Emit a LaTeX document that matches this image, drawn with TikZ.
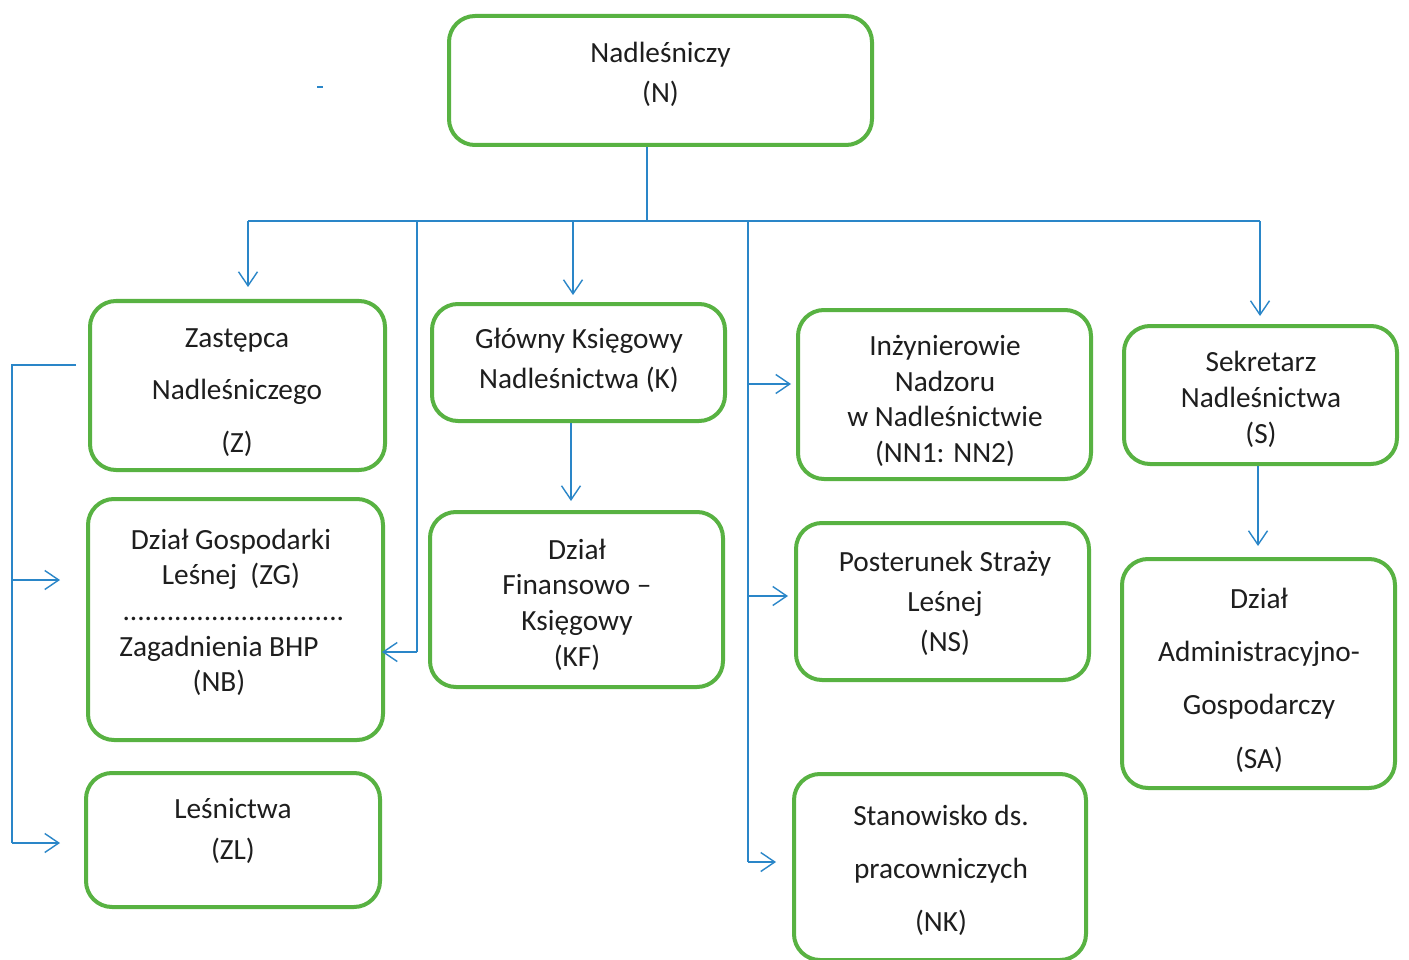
\documentclass[tikz,border=0pt]{standalone}
\usepackage{fontspec}
\setmainfont{Carlito}
\usetikzlibrary{arrows.meta}
\definecolor{boxgreen}{RGB}{88,178,66}
\definecolor{linkblue}{RGB}{42,134,200}
\definecolor{ink}{RGB}{30,30,30}
\tikzset{
  orgbox/.style={draw=boxgreen, line width=4pt, rounded corners=26pt, fill=white,
    inner sep=0pt, minimum width=#1},
  orgbox/.default=293pt,
  lbl/.style={text=ink, align=center, inner sep=0pt},
  link/.style={draw=linkblue, line width=1.4pt},
  arr/.style={link, -{Straight Barb[length=14pt,width=19pt,line width=1.4pt]}},
}
\newcommand{\fs}[1]{\fontsize{29.3}{#1}\selectfont}
\begin{document}
\begin{tikzpicture}[x=1pt,y=-1pt]
\useasboundingbox (0,0) rectangle (1409,960);
\fill[white] (0,0) rectangle (1409,960);

% boxes
\node[orgbox=423pt, minimum height=129pt] (N)  at (660.5,80.5) {};
\node[orgbox=295pt, minimum height=169pt] (Z)  at (237.5,385.5) {};
\node[orgbox=293pt, minimum height=117pt] (K)  at (578.5,362.5) {};
\node[orgbox=293pt, minimum height=169pt] (NN) at (944.5,394.5) {};
\node[orgbox=273pt, minimum height=138pt] (S)  at (1260.5,395) {};
\node[orgbox=295pt, minimum height=241pt] (ZG) at (235.5,619.5) {};
\node[orgbox=293pt, minimum height=175pt] (KF) at (576.5,599.5) {};
\node[orgbox=293pt, minimum height=157pt] (NS) at (942.5,601.5) {};
\node[orgbox=273pt, minimum height=229pt] (SA) at (1258.5,673.5) {};
\node[orgbox=294pt, minimum height=134pt] (ZL) at (233,840) {};
\node[orgbox=292pt, minimum height=186pt] (NK) at (940,867) {};

% texts
\node[lbl, font=\fs{40}] (Nt) at (660.5,74) {Nadleśniczy\\(N)};
\node[lbl, font=\fs{52.5}] (Zt) at (237,392.5) {Zastępca\\Nadleśniczego\\(Z)};
\node[lbl, font=\fs{40}] (Kt) at (579,360) {Główny Księgowy\\Nadleśnictwa (K)};
\node[lbl, font=\fs{35.5}] (NNt) at (945,401) {Inżynierowie\\Nadzoru\\w Nadleśnictwie\\(NN1: NN2)};
\node[lbl, font=\fs{36}] (St) at (1261,399) {Sekretarz\\Nadleśnictwa\\(S)};
\node[lbl, font=\fs{35}] (ZGt) at (231,559.5) {Dział Gospodarki\\Leśnej~~(ZG)};
\node[lbl, font=\fs{35}] (ZGd) at (233.5,619) {..............................};
\node[lbl, font=\fs{35}] (NBt) at (219,665.5) {Zagadnienia BHP\\(NB)};
\node[lbl, font=\fs{35.7}] (KFt) at (577,604.5) {Dział\\Finansowo –\\Księgowy\\(KF)};
\node[lbl, font=\fs{40}] (NSt) at (945,603) {Posterunek Straży\\Leśnej\\(NS)};
\node[lbl, font=\fs{53.3}] (SAt) at (1259,680) {Dział\\Administracyjno-\\Gospodarczy\\(SA)};
\node[lbl, font=\fs{41}] (ZLt) at (233,830.5) {Leśnictwa\\(ZL)};
\node[lbl, font=\fs{53}] (NKt) at (941,870) {Stanowisko ds.\\pracowniczych\\(NK)};

% connector coordinates
\coordinate (hub) at (647,221);
\coordinate (cL)  at (248,221);
\coordinate (cR)  at (1260,221);
\coordinate (cB)  at (417,221);
\coordinate (bhp) at (417,652);
\coordinate (cK)  at (573,221);
\coordinate (cNt) at (748,221);
\coordinate (n1)  at (748,384);
\coordinate (n2)  at (748,596);
\coordinate (n3)  at (748,862);
\coordinate (k1)  at (571,423);
\coordinate (s1)  at (1258,466);
\coordinate (z0)  at (76,365);
\coordinate (z1)  at (12,365);
\coordinate (z2)  at (12,580);
\coordinate (z3)  at (12,843);
\coordinate (d0)  at (317,87);
\coordinate (d1)  at (323,87);

% connectors
\draw[link] (hub |- N.south) -- (hub);
\draw[link] (cL) -- (cR);
\draw[arr, shorten >=12pt] (cL) -- (cL |- Z.north);
\draw[arr, shorten >=7pt] (cK) -- (cK |- K.north);
\draw[arr, shorten >=8pt] (cR) -- (cR |- S.north);
\draw[link] (cB) -- (bhp);
\draw[arr, shorten >=-3pt] (bhp) -- (bhp -| ZG.east);
\draw[link] (cNt) -- (n3);
\draw[arr, shorten >=5pt] (n1) -- (n1 -| NN.west);
\draw[arr, shorten >=6pt] (n2) -- (n2 -| NS.west);
\draw[arr, shorten >=16pt] (n3) -- (n3 -| NK.west);
\draw[arr, shorten >=9pt] (k1) -- (k1 |- KF.north);
\draw[arr, shorten >=11pt] (s1) -- (s1 |- SA.north);
\draw[link] (z0) -- (z1) -- (z3);
\draw[arr, shorten >=26pt] (z2) -- (z2 -| ZG.west);
\draw[arr, shorten >=24pt] (z3) -- (z3 -| ZL.west);
\draw[link] (d0) -- (d1);
\end{tikzpicture}
\end{document}
